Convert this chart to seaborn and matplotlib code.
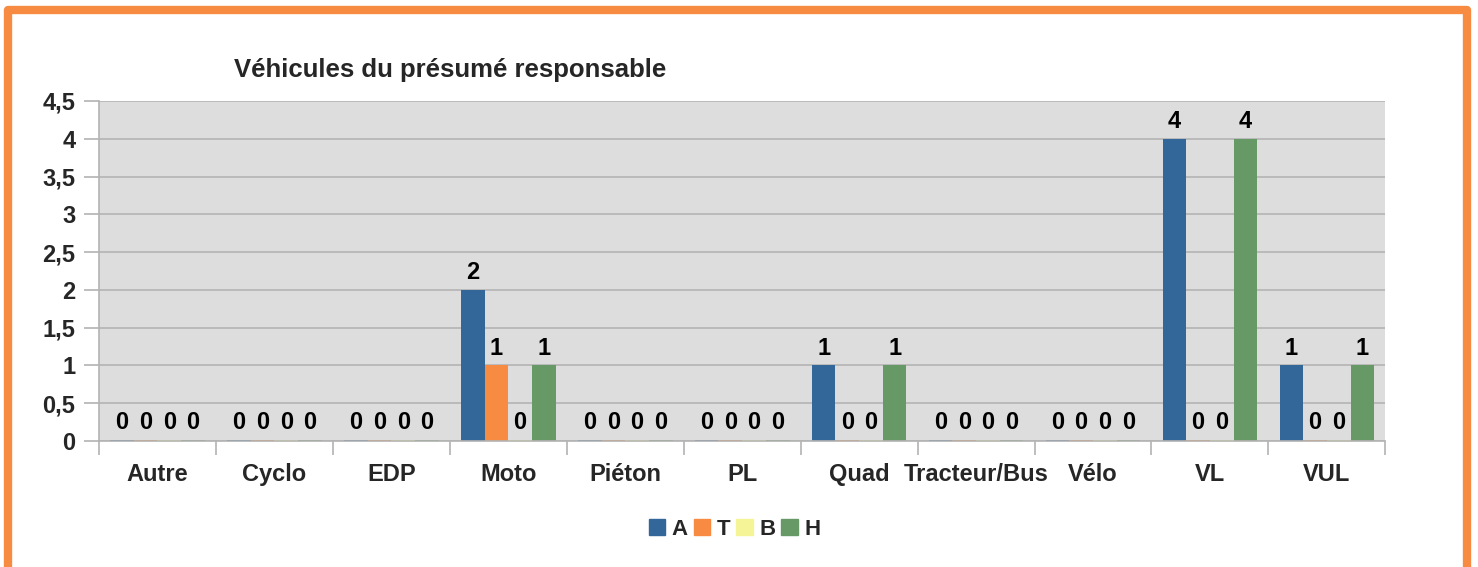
import matplotlib
matplotlib.use("Agg")
import matplotlib.pyplot as plt
import seaborn as sns
import pandas as pd
from matplotlib.patches import Rectangle
from matplotlib.ticker import FuncFormatter, MultipleLocator

categories = ["Autre", "Cyclo", "EDP", "Moto", "Piéton", "PL", "Quad",
              "Tracteur/Bus", "Vélo", "VL", "VUL"]
series_names = ["A", "T", "B", "H"]
vals_A = [0, 0, 0, 2, 0, 0, 1, 0, 0, 4, 1]
vals_T = [0, 0, 0, 1, 0, 0, 0, 0, 0, 0, 0]
vals_B = [0, 0, 0, 0, 0, 0, 0, 0, 0, 0, 0]
vals_H = [0, 0, 0, 1, 0, 0, 1, 0, 0, 4, 1]
colors = ["#336699", "#f68b41", "#f5f597", "#669966"]
title = "Véhicules du présumé responsable"

rows = []
for name, vals in zip(series_names, [vals_A, vals_T, vals_B, vals_H]):
    for c, v in zip(categories, vals):
        rows.append({"cat": c, "serie": name, "val": v})
df = pd.DataFrame(rows)

sns.set_theme(style="white")
plt.rcParams["font.family"] = ["Liberation Sans", "DejaVu Sans"]
plt.rcParams["font.weight"] = "bold"

fig = plt.figure(figsize=(14.78, 5.67), dpi=100)
ax = fig.add_axes([0.067, 0.2222, 0.8703, 0.5997])
ax.set_facecolor("#dddddd")

sns.barplot(data=df, x="cat", y="val", hue="serie", order=categories,
            hue_order=series_names, palette=colors, width=0.81, dodge=True,
            saturation=1, ax=ax, legend=False, linewidth=0, gap=0)

# zero-height bars visible as thin baseline lines
for cont, col in zip(ax.containers, colors):
    for bar in cont:
        if bar.get_height() == 0:
            bar.set_height(0.02)
    ax.bar_label(cont, labels=[f"{int(round(b.get_height()))}" for b in cont],
                 padding=4, fontsize=17, fontweight="bold", color="black")

ax.set_ylim(0, 4.5)
ax.set_xlim(-0.5, len(categories) - 0.5)
ax.yaxis.set_major_locator(MultipleLocator(0.5))
ax.yaxis.set_major_formatter(FuncFormatter(
    lambda v, p: (f"{v:g}").replace(".", ",")))
ax.grid(axis="y", color="#b3b3b3", linewidth=1.2)
ax.set_axisbelow(True)
for s in ["top", "right"]:
    ax.spines[s].set_visible(False)
for s in ["left", "bottom"]:
    ax.spines[s].set_color("#b3b3b3")
    ax.spines[s].set_linewidth(1.2)

# x ticks at category boundaries, labels centered
ax.set_xticks([i - 0.5 for i in range(len(categories) + 1)], minor=False)
ax.set_xticklabels([])
ax.set_xticks(range(len(categories)), minor=True)
ax.set_xticklabels(categories, minor=True, fontsize=17, fontweight="bold")
ax.tick_params(axis="x", which="major", length=10, width=1.2, color="#b3b3b3",
               bottom=True)
ax.tick_params(axis="x", which="minor", length=0, pad=16)
ax.tick_params(axis="y", length=11, width=1.2, color="#b3b3b3", left=True,
               labelsize=17, pad=6)
for t in ax.get_yticklabels():
    t.set_fontweight("bold")
ax.set_xlabel("")
ax.set_ylabel("")

fig.text(0.158, 0.877, title, fontsize=18.5, fontweight="bold", ha="left",
         va="center")

handles = [Rectangle((0, 0), 1, 1, color=c) for c in colors]
fig.legend(handles, series_names, loc="center", bbox_to_anchor=(0.497, 0.066),
           ncol=4, frameon=False, handlelength=0.75, handleheight=0.75,
           handletextpad=0.3, columnspacing=0.25,
           prop={"size": 16, "weight": "bold"})

border = Rectangle((8 / 1478, -0.02), (1467 - 8) / 1478, 1 - 10 / 567 + 0.02,
                   transform=fig.transFigure, fill=False,
                   edgecolor="#f68b41", linewidth=6, joinstyle="round")
fig.patches.append(border)

fig.savefig("out.png", dpi=100)
